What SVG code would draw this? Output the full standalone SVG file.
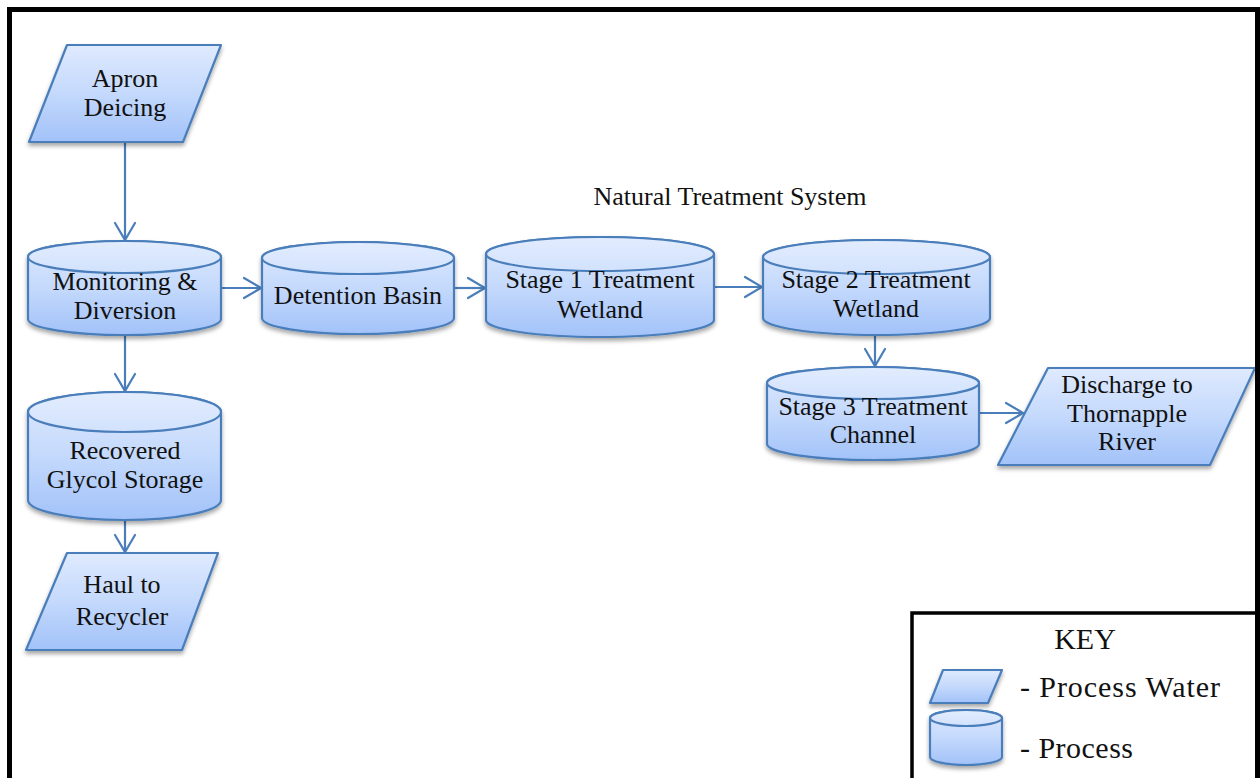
<svg xmlns="http://www.w3.org/2000/svg" width="1260" height="778" viewBox="0 0 1260 778">
  <defs>
    <linearGradient id="fillBlue" x1="0" y1="0" x2="0" y2="1">
      <stop offset="0" stop-color="#dfeafe"/>
      <stop offset="0.5" stop-color="#c4d9fc"/>
      <stop offset="1" stop-color="#a2c2f9"/>
    </linearGradient>
    <linearGradient id="fillTop" x1="0" y1="0" x2="0" y2="1">
      <stop offset="0" stop-color="#e2ecfe"/>
      <stop offset="1" stop-color="#d2e2fd"/>
    </linearGradient>
    <filter id="shadow" x="-10%" y="-10%" width="120%" height="130%">
      <feDropShadow dx="0" dy="3" stdDeviation="2" flood-color="#000" flood-opacity="0.35"/>
    </filter>
    <marker id="chevron" markerUnits="userSpaceOnUse" markerWidth="24" markerHeight="24" viewBox="-20 -12 22 24" refX="0" refY="0" orient="auto" overflow="visible">
      <path d="M-17,-10 L0,0 L-17,10" fill="none" stroke="#4a7ebb" stroke-width="2.2" stroke-linecap="round" stroke-linejoin="miter"/>
    </marker>
  </defs>
  <style>
    .shape { fill: url(#fillBlue); stroke: #4a7ebb; stroke-width: 2.2; stroke-linejoin: round; }
    .lid { fill: url(#fillTop); stroke: #4a7ebb; stroke-width: 2.2; }
    .label { font-family: "Liberation Serif", "Times New Roman", serif; font-size: 26px; fill: #111; text-anchor: middle; }
    .keytext { font-family: "Liberation Serif", "Times New Roman", serif; font-size: 30px; fill: #111; }
    .link { fill: none; stroke: #4a7ebb; stroke-width: 2.2; marker-end: url(#chevron); }
  </style>

  <rect x="0" y="0" width="1260" height="778" fill="#ffffff"/>

  <!-- connectors -->
  <g id="connectors">
    <line class="link" x1="125" y1="142" x2="125" y2="240"/>
    <line class="link" x1="221" y1="288" x2="261" y2="288"/>
    <line class="link" x1="454" y1="288" x2="485" y2="288"/>
    <line class="link" x1="714" y1="287" x2="762" y2="287"/>
    <line class="link" x1="875" y1="335" x2="875" y2="366"/>
    <line class="link" x1="979" y1="413" x2="1023" y2="413"/>
    <line class="link" x1="125" y1="335" x2="125" y2="391"/>
    <line class="link" x1="125" y1="520" x2="125" y2="552"/>
  </g>

  <!-- input / output water -->
  <g id="apron-deicing">
    <polygon class="shape" filter="url(#shadow)" points="67,45 221,45 183,142 29,142"/>
    <text class="label" x="125" y="87">Apron</text>
    <text class="label" x="125" y="116">Deicing</text>
  </g>

  <g id="monitoring-diversion">
    <g filter="url(#shadow)">
      <path class="shape" d="M28,257 A96.5,16 0 0 1 221,257 L221,319 A96.5,16 0 0 1 28,319 Z"/>
      <ellipse class="lid" cx="124.5" cy="257" rx="96.5" ry="16"/>
    </g>
    <text class="label" x="125" y="290">Monitoring &amp;</text>
    <text class="label" x="125" y="319">Diversion</text>
  </g>

  <g id="detention-basin">
    <g filter="url(#shadow)">
      <path class="shape" d="M262,258 A96,16 0 0 1 454,258 L454,318 A96,16 0 0 1 262,318 Z"/>
      <ellipse class="lid" cx="358" cy="258" rx="96" ry="16"/>
    </g>
    <text class="label" x="358" y="304">Detention Basin</text>
  </g>

  <text id="natural-treatment-title" class="label" x="730" y="205">Natural Treatment System</text>

  <g id="stage1-wetland">
    <g filter="url(#shadow)">
      <path class="shape" d="M486,254 A114,17 0 0 1 714,254 L714,320 A114,17 0 0 1 486,320 Z"/>
      <ellipse class="lid" cx="600" cy="254" rx="114" ry="17"/>
    </g>
    <text class="label" x="600" y="288">Stage 1 Treatment</text>
    <text class="label" x="600" y="318">Wetland</text>
  </g>

  <g id="stage2-wetland">
    <g filter="url(#shadow)">
      <path class="shape" d="M763,257 A113.5,17 0 0 1 990,257 L990,318 A113.5,17 0 0 1 763,318 Z"/>
      <ellipse class="lid" cx="876.5" cy="257" rx="113.5" ry="17"/>
    </g>
    <text class="label" x="876" y="288">Stage 2 Treatment</text>
    <text class="label" x="876" y="317">Wetland</text>
  </g>

  <g id="stage3-channel">
    <g filter="url(#shadow)">
      <path class="shape" d="M767,383 A106,16 0 0 1 979,383 L979,444 A106,16 0 0 1 767,444 Z"/>
      <ellipse class="lid" cx="873" cy="383" rx="106" ry="16"/>
    </g>
    <text class="label" x="873" y="415">Stage 3 Treatment</text>
    <text class="label" x="873" y="443">Channel</text>
  </g>

  <g id="discharge-river">
    <polygon class="shape" filter="url(#shadow)" points="1048,368 1255,368 1210,465 998,465"/>
    <text class="label" x="1127" y="393">Discharge to</text>
    <text class="label" x="1127" y="422">Thornapple</text>
    <text class="label" x="1127" y="450">River</text>
  </g>

  <g id="glycol-storage">
    <g filter="url(#shadow)">
      <path class="shape" d="M28,412 A96.5,20 0 0 1 221,412 L221,500 A96.5,20 0 0 1 28,500 Z"/>
      <ellipse class="lid" cx="124.5" cy="412" rx="96.5" ry="20"/>
    </g>
    <text class="label" x="125" y="459">Recovered</text>
    <text class="label" x="125" y="488">Glycol Storage</text>
  </g>

  <g id="haul-recycler">
    <polygon class="shape" filter="url(#shadow)" points="67,553 218,553 182,650 26,650"/>
    <text class="label" x="122" y="593">Haul to</text>
    <text class="label" x="122" y="625">Recycler</text>
  </g>

  <!-- legend -->
  <g id="key">
    <rect x="912" y="613" width="360" height="200" fill="#ffffff" stroke="#000" stroke-width="3.5"/>
    <text class="keytext" x="1085" y="649" text-anchor="middle">KEY</text>
    <polygon class="shape" filter="url(#shadow)" points="943,670 1002,670 988,703 930,703"/>
    <text class="keytext" x="1020" y="697" textLength="200" lengthAdjust="spacing">- Process Water</text>
    <g filter="url(#shadow)">
      <path class="shape" d="M930,718 A36,8 0 0 1 1002,718 L1002,757 A36,8 0 0 1 930,757 Z"/>
      <ellipse class="lid" cx="966" cy="718" rx="36" ry="8"/>
    </g>
    <text class="keytext" x="1020" y="758" textLength="113" lengthAdjust="spacing">- Process</text>
  </g>

  <!-- outer frame -->
  <rect x="9.5" y="9.5" width="1248" height="800" fill="none" stroke="#000" stroke-width="5"/>
</svg>
